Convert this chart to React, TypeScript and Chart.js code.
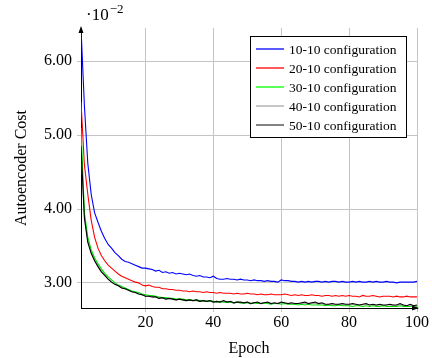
import React, { useEffect, useRef } from "react";
import { Chart, registerables } from "chart.js";

Chart.register(...registerables);

// Epoch numbers (x categories)
const epochs: number[] = Array.from({ length: 100 }, (_, i) => i + 1);

// Autoencoder cost, in units of 10^-2
const cost10_10: number[] = [
  6.45, 5.4, 4.62, 4.2, 3.95, 3.82, 3.7, 3.6, 3.52, 3.47,
  3.41, 3.37, 3.32, 3.29, 3.28, 3.26, 3.24, 3.22, 3.2, 3.2,
  3.19, 3.18, 3.16, 3.17, 3.14, 3.15, 3.13, 3.14, 3.12, 3.13,
  3.12, 3.11, 3.12, 3.1, 3.09, 3.1, 3.08, 3.08, 3.07, 3.09,
  3.06, 3.05, 3.05, 3.06, 3.05, 3.05, 3.04, 3.05, 3.04, 3.04,
  3.03, 3.04, 3.03, 3.03, 3.02, 3.03, 3.02, 3.02, 3.01, 3.04,
  3.03, 3.03, 3.02, 3.02, 3.01, 3.02, 3.01, 3.02, 3.01, 3.02,
  3.02, 3.01, 3.02, 3.01, 3.02, 3.02, 3.01, 3.02, 3.01, 3.01,
  3.02, 3.01, 3.02, 3.01, 3.01, 3.02, 3.01, 3.02, 3.01, 3.01,
  3.02, 3.01, 3.01, 3.0, 3.01, 3.01, 3.01, 3.01, 3.01, 3.02,
];

const cost20_10: number[] = [
  5.45, 4.6, 4.2, 3.85, 3.62, 3.47, 3.37, 3.3, 3.24, 3.2,
  3.16, 3.12, 3.09, 3.07, 3.05, 3.03, 3.01, 3.0, 2.97, 2.96,
  2.97, 2.95, 2.94, 2.94, 2.92, 2.92, 2.91, 2.91, 2.9, 2.9,
  2.89, 2.89, 2.88, 2.89, 2.88, 2.88, 2.87, 2.88, 2.87, 2.87,
  2.86, 2.87, 2.86, 2.86, 2.86, 2.85, 2.86, 2.85, 2.85, 2.86,
  2.85, 2.85, 2.84, 2.85, 2.84, 2.84, 2.85, 2.84, 2.84, 2.84,
  2.85, 2.84, 2.83, 2.84, 2.83, 2.84, 2.83, 2.83, 2.84, 2.83,
  2.83, 2.82, 2.83, 2.83, 2.82, 2.83, 2.82, 2.83, 2.82, 2.83,
  2.82, 2.82, 2.81, 2.83, 2.82, 2.82, 2.83, 2.82, 2.81, 2.82,
  2.82, 2.82, 2.81, 2.82, 2.81, 2.81, 2.82, 2.81, 2.81, 2.81,
];

const cost30_10: number[] = [
  5.1, 3.95, 3.62, 3.45, 3.34, 3.26, 3.19, 3.13, 3.08, 3.04,
  3.0, 2.97, 2.95, 2.93, 2.91, 2.89, 2.88, 2.87, 2.85, 2.84,
  2.83, 2.83, 2.82, 2.81, 2.8, 2.8, 2.79, 2.79, 2.78, 2.78,
  2.78, 2.77, 2.77, 2.76, 2.77, 2.76, 2.76, 2.75, 2.76, 2.75,
  2.74, 2.75, 2.74, 2.74, 2.74, 2.73, 2.74, 2.73, 2.73, 2.73,
  2.72, 2.73, 2.72, 2.72, 2.73, 2.72, 2.71, 2.72, 2.72, 2.71,
  2.72, 2.71, 2.71, 2.71, 2.7, 2.71, 2.7, 2.71, 2.7, 2.7,
  2.7, 2.7, 2.69, 2.7, 2.69, 2.69, 2.7, 2.69, 2.69, 2.69,
  2.68, 2.69, 2.69, 2.68, 2.69, 2.68, 2.69, 2.68, 2.68, 2.69,
  2.68, 2.68, 2.68, 2.68, 2.69, 2.68, 2.68, 2.68, 2.69, 2.68,
];

const cost40_10: number[] = [
  4.9, 3.9, 3.56, 3.41, 3.31, 3.23, 3.16, 3.1, 3.05, 3.01,
  2.98, 2.96, 2.93, 2.92, 2.9, 2.88, 2.87, 2.85, 2.84, 2.82,
  2.82, 2.81, 2.81, 2.79, 2.8, 2.78, 2.79, 2.78, 2.77, 2.78,
  2.77, 2.76, 2.77, 2.76, 2.76, 2.75, 2.76, 2.75, 2.75, 2.74,
  2.75, 2.74, 2.75, 2.74, 2.74, 2.73, 2.74, 2.73, 2.73, 2.74,
  2.72, 2.73, 2.73, 2.72, 2.73, 2.73, 2.72, 2.72, 2.72, 2.73,
  2.72, 2.72, 2.72, 2.71, 2.72, 2.72, 2.72, 2.71, 2.72, 2.72,
  2.71, 2.72, 2.7, 2.71, 2.71, 2.7, 2.71, 2.71, 2.7, 2.7,
  2.71, 2.7, 2.7, 2.7, 2.71, 2.7, 2.7, 2.69, 2.7, 2.69,
  2.7, 2.7, 2.69, 2.69, 2.71, 2.69, 2.69, 2.7, 2.69, 2.69,
];

const cost50_10: number[] = [
  4.85, 3.88, 3.55, 3.4, 3.3, 3.22, 3.15, 3.1, 3.05, 3.01,
  2.98, 2.96, 2.93, 2.92, 2.9, 2.88, 2.87, 2.85, 2.84, 2.82,
  2.82, 2.81, 2.81, 2.79, 2.8, 2.78, 2.79, 2.78, 2.77, 2.78,
  2.77, 2.76, 2.77, 2.76, 2.77, 2.75, 2.76, 2.75, 2.76, 2.74,
  2.75, 2.74, 2.76, 2.74, 2.75, 2.73, 2.74, 2.74, 2.73, 2.74,
  2.72, 2.73, 2.74, 2.72, 2.73, 2.74, 2.72, 2.73, 2.72, 2.74,
  2.73, 2.72, 2.73, 2.72, 2.72, 2.73, 2.74, 2.72, 2.73, 2.74,
  2.72, 2.73, 2.71, 2.71, 2.72, 2.71, 2.71, 2.72, 2.71, 2.71,
  2.72, 2.71, 2.7, 2.71, 2.72, 2.7, 2.71, 2.7, 2.71, 2.7,
  2.7, 2.71, 2.7, 2.7, 2.72, 2.7, 2.69, 2.71, 2.69, 2.7,
];

const seriesLabels: string[] = [
  "10-10 configuration",
  "20-10 configuration",
  "30-10 configuration",
  "40-10 configuration",
  "50-10 configuration",
];
const seriesValues: number[][] = [cost10_10, cost20_10, cost30_10, cost40_10, cost50_10];
const seriesColors: string[] = ["#0000ff", "#ff0000", "#00e000", "#a8a8a8", "#000000"];
const legendColors: string[] = ["#0000ff", "#ff0000", "#00ff00", "#a8a8a8", "#404040"];
// drawing order (0 = on top)
const drawOrder: number[] = [4, 3, 1, 2, 0];

const xTicks: number[] = [20, 40, 60, 80, 100];
const yTicks: number[] = [3, 4, 5, 6];

const SERIF = "'Liberation Serif', 'DejaVu Serif', serif";

const overlayPlugin = {
  id: "overlay",
  afterDraw(chart: any) {
    const ctx = chart.ctx as CanvasRenderingContext2D;
    const a = chart.chartArea;
    ctx.save();
    // axis arrows
    ctx.fillStyle = "#000";
    ctx.beginPath();
    ctx.moveTo(a.left, a.top - 2);
    ctx.lineTo(a.left - 2.5, a.top + 5);
    ctx.lineTo(a.left + 2.5, a.top + 5);
    ctx.closePath();
    ctx.fill();
    ctx.beginPath();
    ctx.moveTo(a.right + 2, a.bottom);
    ctx.lineTo(a.right - 5, a.bottom - 2.5);
    ctx.lineTo(a.right - 5, a.bottom + 2.5);
    ctx.closePath();
    ctx.fill();

    // scale factor label
    ctx.fillStyle = "#000";
    ctx.textBaseline = "alphabetic";
    ctx.textAlign = "left";
    ctx.font = `17px ${SERIF}`;
    ctx.fillText("\u00b710", a.left + 5, 20);
    const w = ctx.measureText("\u00b710").width;
    ctx.font = `13px ${SERIF}`;
    ctx.fillText("\u22122", a.left + 5 + w + 1, 13);

    // legend
    const boxRight = a.right - 10;
    const boxTop = a.top + 8;
    const boxW = 157;
    const rowH = 19;
    const boxH = 102;
    const boxLeft = boxRight - boxW;
    ctx.fillStyle = "#fff";
    ctx.fillRect(boxLeft, boxTop, boxW, boxH);
    ctx.strokeStyle = "#000";
    ctx.lineWidth = 1;
    ctx.strokeRect(boxLeft + 0.5, boxTop + 0.5, boxW - 1, boxH - 1);
    ctx.font = `13.5px ${SERIF}`;
    ctx.textBaseline = "middle";
    seriesLabels.forEach((label: string, i: number) => {
      const y = Math.round(boxTop + 13 + i * rowH);
      ctx.strokeStyle = legendColors[i];
      ctx.lineWidth = 1.3;
      ctx.beginPath();
      ctx.moveTo(boxLeft + 6, y);
      ctx.lineTo(boxLeft + 34, y);
      ctx.stroke();
      ctx.fillStyle = "#000";
      ctx.fillText(label, boxLeft + 39, y + 1);
    });
    ctx.restore();
  },
};

export default function App() {
  const ref = useRef<HTMLCanvasElement>(null);
  useEffect(() => {
    document.body.style.margin = "0";
    const canvas = ref.current!;
    const chart = new Chart(canvas, {
      type: "line",
      data: {
        datasets: seriesValues.map((vals, i) => ({
          label: seriesLabels[i],
          data: vals.map((v, j) => ({ x: epochs[j], y: v })),
          borderColor: seriesColors[i],
          backgroundColor: seriesColors[i],
          borderWidth: 1.1,
          pointRadius: 0,
          tension: 0,
          fill: false,
          order: drawOrder[i],
        })),
      },
      options: {
        animation: false,
        responsive: false,
        maintainAspectRatio: false,
        layout: { padding: { left: 12, right: 15, top: 28, bottom: 0 } },
        plugins: {
          legend: { display: false },
          tooltip: { enabled: false },
        },
        scales: {
          x: {
            type: "linear",
            min: 1,
            max: 100,
            afterBuildTicks: (s: any) => {
              s.ticks = xTicks.map((v) => ({ value: v }));
            },
            afterFit: (s: any) => {
              s.height = 50;
            },
            ticks: {
              color: "#000",
              font: { family: SERIF, size: 16 },
              padding: 1,
              maxRotation: 0,
              callback: (v: any) => String(v),
            },
            grid: { color: "#c4c4c4", lineWidth: 1, tickLength: 4 },
            border: { display: true, color: "#000", width: 1 },
            title: {
              display: true,
              text: "Epoch",
              color: "#000",
              font: { family: SERIF, size: 16 },
              padding: { top: 1, bottom: 0 },
            },
          },
          y: {
            type: "linear",
            min: 2.66,
            max: 6.45,
            afterBuildTicks: (s: any) => {
              s.ticks = yTicks.map((v) => ({ value: v }));
            },
            afterFit: (s: any) => {
              s.width = 69;
            },
            ticks: {
              color: "#000",
              font: { family: SERIF, size: 16 },
              padding: 5,
              callback: (v: any) => Number(v).toFixed(2),
            },
            grid: { color: "#c4c4c4", lineWidth: 1, tickLength: 4 },
            border: { display: true, color: "#000", width: 1 },
            title: {
              display: true,
              text: "Autoencoder Cost",
              color: "#000",
              font: { family: SERIF, size: 16 },
              padding: { top: 0, bottom: 4 },
            },
          },
        },
      },
      plugins: [overlayPlugin],
    });
    return () => chart.destroy();
  }, []);
  return (
    <div style={{ position: "relative", width: 432, height: 358 }}>
      <canvas ref={ref} width={432} height={358} style={{ display: "block" }} />
    </div>
  );
}
